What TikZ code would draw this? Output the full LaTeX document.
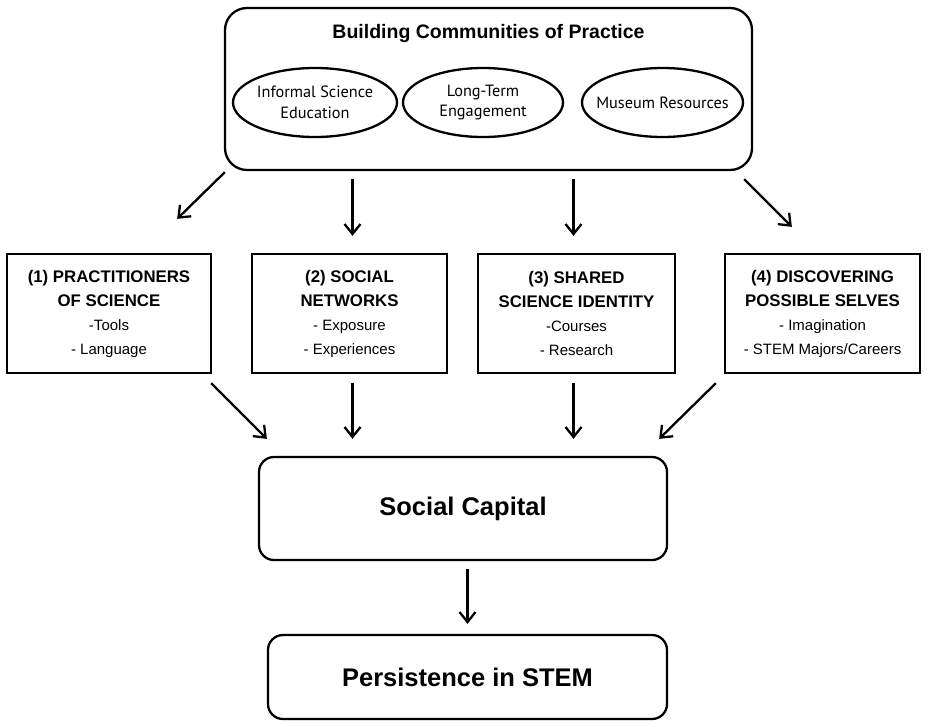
\documentclass[tikz,border=0pt]{standalone}
\usepackage{fontspec}
\setmainfont{Liberation Sans}
\newfontfamily\ovalfont{PT Sans}
\usetikzlibrary{shapes.geometric,arrows.meta,positioning}

\newcommand{\hd}[1]{{\bfseries\fontsize{16.8}{24}\selectfont #1}}

\begin{document}
\begin{tikzpicture}[x=1pt, y=-1pt,
		line width=2.3pt,
		frame/.style={draw, rounded corners=22pt, inner sep=0pt},
		oval/.style={draw, ellipse, inner ysep=0pt, inner xsep=-14pt, minimum height=69pt, align=center,
			font=\ovalfont\fontsize{16.3}{20.5}\selectfont},
		pillar/.style={draw, rectangle, inner sep=0pt, minimum height=119pt, align=center,
			font=\fontsize{15}{24}\selectfont},
		outcome/.style={draw, rounded corners=15pt, inner sep=0pt, font=\bfseries\fontsize{25.5}{30}\selectfont},
		arr/.style={-{Straight Barb[length=10pt, width=16pt, line width=2.3pt]}}]
		\useasboundingbox (0, 0) rectangle (928, 726);

		% communities of practice
		\node[frame, minimum width=527pt, minimum height=162pt] (top) at (488.5, 89) {};
		\node[font=\bfseries\fontsize{19.5}{22}\selectfont] (title) at (488.5, 33) {Building Communities of Practice};
		\node[oval, minimum width=164pt] (ise) at (315, 102.5) {Informal Science\\Education};
		\node[oval, minimum width=160pt] (lte) at (483, 102.5) {Long-Term\\Engagement};
		\node[oval, minimum width=161pt] (mr) at (662.5, 102.5) {Museum Resources};

		% four pillars
		\node[pillar, minimum width=204pt] (b1) at (109, 313.5) {\hd{(1) PRACTITIONERS}\\\hd{OF SCIENCE}\\-Tools\\- Language};
		\node[pillar, minimum width=195pt] (b2) at (349.5, 313.5) {\hd{(2) SOCIAL}\\\hd{NETWORKS}\\- Exposure\\- Experiences};
		\node[pillar, minimum width=197pt] (b3) at (576.5, 313.5) {\hd{(3) SHARED}\\\hd{SCIENCE IDENTITY}\\-Courses\\- Research};
		\node[pillar, minimum width=195pt] (b4) at (822.5, 313.5) {\hd{(4) DISCOVERING}\\\hd{POSSIBLE SELVES}\\- Imagination\\- STEM Majors/Careers};

		% outcomes
		\node[outcome, minimum width=408pt, minimum height=103pt] (cap) at (463, 508.5) {Social Capital};
		\node[outcome, minimum width=399pt, minimum height=84pt] (stem) at (467.5, 677) {Persistence in STEM};

		\draw[arr] ([xshift=1pt, yshift=-1pt]top.south west) -- ([xshift=-35pt, yshift=34pt]b1.north east);
		\draw[arr] ([xshift=3pt, yshift=-8pt]top.south -| b2.north) -- ([xshift=3pt, yshift=17pt]b2.north);
		\draw[arr] ([xshift=-3pt, yshift=-8pt]top.south -| b3.north) -- ([xshift=-3pt, yshift=17pt]b3.north);
		\draw[arr] ([xshift=-9pt, yshift=-8pt]top.south east) -- ([xshift=68pt, yshift=26pt]b4.north west);

		\draw[arr] ([xshift=-1pt, yshift=-9pt]b1.south east) -- ([xshift=9pt, yshift=17pt]cap.north west);
		\draw[arr] ([xshift=3pt, yshift=-9pt]b2.south) -- ([xshift=3pt, yshift=17pt]b2.south |- cap.north);
		\draw[arr] ([xshift=-3pt, yshift=-9pt]b3.south) -- ([xshift=-3pt, yshift=17pt]b3.south |- cap.north);
		\draw[arr] ([xshift=-8pt, yshift=-9pt]b4.south west) -- ([xshift=-9pt, yshift=17pt]cap.north east);

		\draw[arr] ([yshift=-8pt]cap.south -| stem.north) -- ([yshift=10pt]stem.north);
	\end{tikzpicture}
\end{document}
